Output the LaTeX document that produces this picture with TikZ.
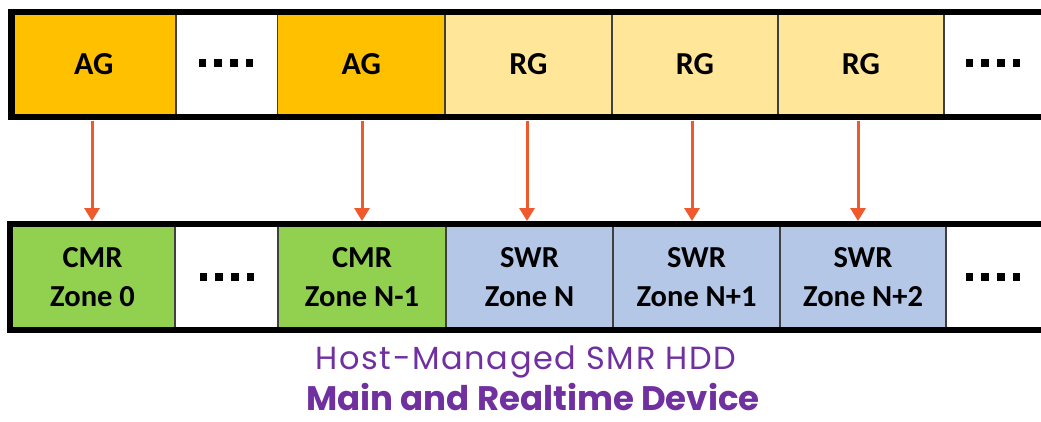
\documentclass[tikz,border=0pt]{standalone}
\usepackage{fontspec}
\setmainfont{Carlito}
\newfontfamily\titlefont{Poppins}
\usetikzlibrary{arrows.meta}
\definecolor{agc}{HTML}{FFC000}
\definecolor{rgc}{HTML}{FFE699}
\definecolor{cmrc}{HTML}{92D050}
\definecolor{swrc}{HTML}{B4C7E7}
\definecolor{arrc}{HTML}{F0592B}
\definecolor{purp}{HTML}{7030A0}
\tikzset{
  cell/.style={draw=black!75, line width=1.5pt, inner sep=0pt, minimum height=#1},
  topcell/.style={cell=105pt, font=\fontsize{32}{32}\selectfont\bfseries},
  botcell/.style={cell=106pt, align=center, font=\fontsize{30.5}{39}\selectfont\bfseries},
  frame/.style={draw=black, line width=6.5pt},
  dotsq/.style={fill=black, minimum size=7.5pt, inner sep=0pt},
  link/.style={draw=arrc, line width=3pt, -{Triangle[length=13pt,width=15pt]}, shorten >=3pt},
}
\newcommand{\dotrow}[2]{%
  \foreach \k in {0,1,2,3} {\node[dotsq] at ({#1-23.5+\k*15.7},#2) {};}}
\begin{document}
\begin{tikzpicture}[x=1pt,y=-1pt]
\useasboundingbox (0,0) rectangle (1041,421);
\clip (0,0) rectangle (1041,421);
% top row
\node[topcell, fill=agc, minimum width=164.5pt] (t1) at (93.75,64.5) {AG};
\node[topcell, fill=white, minimum width=101.5pt] (t2) at (226.75,64.5) {};
\node[topcell, fill=agc, minimum width=167.5pt] (t3) at (361.25,64.5) {AG};
\node[topcell, fill=rgc, minimum width=167pt] (t4) at (528.5,64.5) {RG};
\node[topcell, fill=rgc, minimum width=166pt] (t5) at (695,64.5) {RG};
\node[topcell, fill=rgc, minimum width=166pt] (t6) at (861,64.5) {RG};
\node[topcell, fill=white, minimum width=106pt] (t7) at (997,64.5) {};
\draw[frame] (11.5,12) rectangle (1060,117);
\dotrow{226}{63}
\dotrow{993}{63}
% bottom row
\node[botcell, fill=cmrc, minimum width=165pt] (b1) at (92.5,277) {CMR\\Zone 0};
\node[botcell, fill=white, minimum width=103pt] (b2) at (226.5,277) {};
\node[botcell, fill=cmrc, minimum width=168pt] (b3) at (362,277) {CMR\\Zone N-1};
\node[botcell, fill=swrc, minimum width=167pt] (b4) at (529.5,277) {SWR\\Zone N};
\node[botcell, fill=swrc, minimum width=167pt] (b5) at (696.5,277) {SWR\\Zone N+1};
\node[botcell, fill=swrc, minimum width=166pt] (b6) at (863,277) {SWR\\Zone N+2};
\node[botcell, fill=white, minimum width=104pt] (b7) at (998,277) {};
\draw[frame] (10,224) rectangle (1060,330);
\dotrow{227}{277}
\dotrow{993}{277}
% arrows
\foreach \i/\x in {1/92,3/362,4/527,5/692,6/858} {
  \draw[link] (\x,120.5) -- (\x,224);
}
% title
\node[text=purp, font=\titlefont\fontsize{32}{32}\selectfont\addfontfeature{LetterSpace=5}, anchor=base] (title1) at (526,369) {Host-Managed SMR HDD};
\node[text=purp, font=\titlefont\fontsize{34}{34}\selectfont\bfseries, anchor=base] (title2) at (533,410) {Main and Realtime Device};
\end{tikzpicture}
\end{document}
